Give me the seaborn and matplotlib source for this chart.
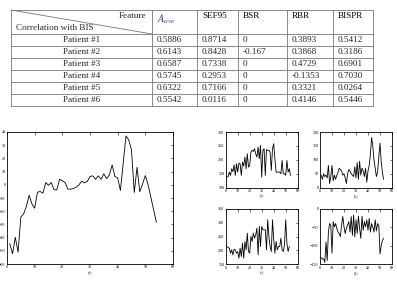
import numpy as np
import pandas as pd
import matplotlib
matplotlib.use("Agg")
import matplotlib.pyplot as plt
import seaborn as sns

# ---------------- data ----------------
features = ["$A_{ave}$", "SEF95", "BSR", "RBR", "BISPR"]
patients = ["Patient #1", "Patient #2", "Patient #3", "Patient #4", "Patient #5", "Patient #6"]
col_aave = ["0.5886", "0.6143", "0.6587", "0.5745", "0.6322", "0.5542"]
col_sef95 = ["0.8714", "0.8428", "0.7338", "0.2953", "0.7166", "0.0116"]
col_bsr = ["0", "-0.167", "0", "0", "0", "0"]
col_rbr = ["0.3893", "0.3868", "0.4729", "-0.1353", "0.3321", "0.4146"]
col_bispr = ["0.5412", "0.3186", "0.6901", "0.7030", "0.0264", "0.5446"]

main_y = [-44.6, -52.2, -39.8, -51, -24.5, -22, -16.4, -7.9, -14.4, -17.7,
          -5.6, -5.1, -6.3, 1.7, -0.3, 1.7, -3.8, -3.8, 4.2, 3,
          1.7, -3.3, -3.3, -2.8, -1.8, 0, 2.7, 1.5, 2.5, 6.3,
          6.8, 4.2, 6.8, 4.2, 8.3, 4.7, 7.5, 15, 6.3, 5.2,
          -4.3, 16.3, 37, 34, 26.4, -5.8, 13.3, -5.3, 0.7, 7,
          0, -9.4, -19, -28.5]

sub_a = [138, 140, 156, 144, 168, 158, 182, 144, 186, 156,
         188, 186, 144, 192, 178, 210, 168, 222, 174, 180,
         228, 234, 230, 240, 222, 210, 246, 204, 252, 138,
         234, 240, 144, 237, 234, 234, 228, 162, 240, 258,
         204, 156, 156, 156, 156, 150, 198, 150, 150, 144,
         198, 156, 168, 144]
sub_b = [45, 30, 50, 40, 45, 35, 80, 15, 40, 80,
         25, 45, 30, 45, 55, 70, 65, 60, 45, 50,
         35, 15, 50, 65, 60, 50, 45, 40, 75, 35,
         90, 30, 95, 45, 70, 60, 40, 70, 20, 60,
         80, 120, 180, 150, 100, 70, 40, 55, 110, 160,
         95, 55, 30]
sub_c = [214, 211, 208, 190, 202, 184, 204, 202, 190, 195,
         172, 208, 178, 226, 172, 232, 202, 262, 196, 190,
         250, 232, 262, 244, 256, 280, 184, 286, 214, 286,
         274, 274, 274, 202, 310, 250, 214, 196, 310, 240,
         190, 232, 202, 214, 214, 244, 202, 196, 220, 310,
         226, 196, 214]
sub_d = [-132, -136, -135, -145, -90, -140, -63, -40, -45, -120,
         -35, -49, -40, -53, -63, -67, -75, -44, -21, -49,
         -67, -53, -44, -35, -63, -21, -72, -17, -76, -30,
         -67, -20, -53, -80, -20, -58, -35, -49, -30, -58,
         -26, -63, -40, -49, -63, -30, -60, -40, -45, -122,
         -100, -85, -80]

sub_series = [sub_a, sub_b, sub_c, sub_d]
sub_labels = ["(a)", "(b)", "(c)", "(d)"]
sub_ylims = [(100, 300), (0, 200), (150, 350), (-150, 0)]
sub_yticks = [[100, 150, 200, 250, 300], [0, 50, 100, 150, 200],
              [150, 200, 250, 300, 350], [-150, -100, -50, 0]]

# ---------------- figure ----------------
sns.set_style("white")
plt.rcParams['font.family'] = ['Liberation Serif', 'DejaVu Serif']
plt.rcParams['mathtext.fontset'] = 'stix'

W, H = 397, 281
fig = plt.figure(figsize=(W / 100, H / 100), dpi=100)

def fx(px):
    return px / W

def fy(py):
    return 1 - py / H

# ----- table drawn with lines + text -----
tab = fig.add_axes([0, 0, 1, 1])
tab.set_xlim(0, W)
tab.set_ylim(H, 0)
tab.axis("off")
cols = [11, 152, 197, 238, 287, 333, 373]
rows = [10, 34, 46, 58, 70, 82, 94, 106]
lc = "#777777"
for c in cols:
    tab.plot([c, c], [rows[0], rows[-1]], color=lc, lw=0.6)
for r in rows:
    tab.plot([cols[0], cols[-1]], [r, r], color=lc, lw=0.6)
tab.plot([cols[0], cols[1]], [rows[0], rows[1]], color=lc, lw=0.6)
fs = 6.6
tab.text(cols[1] - 6, rows[0] + 2, "Feature", ha="right", va="top", fontsize=fs)
tab.text(cols[0] + 5, rows[1] - 2, "Correlation with BIS", ha="left", va="bottom", fontsize=fs)
for i, f in enumerate(features):
    color = "#2a3f8f" if f.startswith("$") else "black"
    tab.text(cols[i + 1] + 5, rows[0] + 2, f, ha="left", va="top", fontsize=fs + (1 if f.startswith("$") else 0), color=color)
columns = [col_aave, col_sef95, col_bsr, col_rbr, col_bispr]
for j, p in enumerate(patients):
    yc = (rows[j + 1] + rows[j + 2]) / 2
    tab.text((cols[0] + cols[1]) / 2, yc, p, ha="center", va="center", fontsize=fs)
    for i, col in enumerate(columns):
        tab.text(cols[i + 1] + 5, yc, col[j], ha="left", va="center", fontsize=fs)

def style_ax(ax):
    for s in ax.spines.values():
        s.set_linewidth(0.6)
        s.set_color("black")
    ax.tick_params(direction="in", top=True, right=True, length=1.8, width=0.4,
                   labelsize=3, pad=1, colors="black")
    ax.set_ylabel("")

# ----- main plot -----
ax = fig.add_axes([fx(7), fy(264), fx(173) - fx(7), fy(132) - fy(264)])
df_main = pd.DataFrame({"x": np.arange(1, len(main_y) + 1), "y": main_y})
sns.lineplot(data=df_main, x="x", y="y", ax=ax, color="black", lw=0.6)
ax.set_xlim(0, 60)
ax.set_ylim(-60, 40)
ax.set_xticks(range(0, 61, 10))
ax.set_yticks(range(-60, 41, 10))
style_ax(ax)
ax.set_xlabel("(a)", fontsize=3, labelpad=1)

# ----- small plots -----
boxes = [(225.7, 297.7, 132, 187.7), (320, 392, 132, 187.7),
         (225.7, 297.7, 208.7, 264.3), (320, 392, 208.7, 264.3)]
for k, (l, r, t, b) in enumerate(boxes):
    a = fig.add_axes([fx(l), fy(b), fx(r) - fx(l), fy(t) - fy(b)])
    d = pd.DataFrame({"x": np.arange(1, len(sub_series[k]) + 1), "y": sub_series[k]})
    sns.lineplot(data=d, x="x", y="y", ax=a, color="black", lw=0.6)
    a.set_xlim(0, 60)
    a.set_ylim(*sub_ylims[k])
    a.set_xticks(range(0, 61, 10))
    a.set_yticks(sub_yticks[k])
    style_ax(a)
    a.set_xlabel(sub_labels[k], fontsize=3, labelpad=1)

fig.savefig("out.png", dpi=100)
